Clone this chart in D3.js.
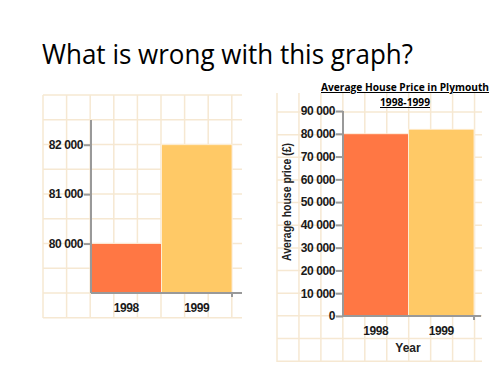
<!DOCTYPE html>
<html>
<head>
<meta charset="utf-8">
<script src="https://cdn.jsdelivr.net/npm/d3@7"></script>
<style>
	body { margin: 0; background: #fff; }
	svg { display: block; }
	.tick text { font-family: "Liberation Sans", Arial, sans-serif; font-weight: bold; font-size: 12px; letter-spacing: -0.4px; fill: #1a1a1a; }
</style>
</head>
<body>
<div id="chart"></div>
<script>
var years = ['1998', '1999'];
var prices = [80000, 82000];
var barColors = ['#ff7744', '#ffc966'];
var leftTicks = [80000, 81000, 82000];
var rightTicks = [0, 10000, 20000, 30000, 40000, 50000, 60000, 70000, 80000, 90000];

var width = 500, height = 375;
var svg = d3.select('#chart').append('svg').attr('width', width).attr('height', height);

var fmt = function (d) { return d3.format(',')(d).replace(/,/g, ' '); };

// question on the slide
svg.append('text')
	.attr('x', 42).attr('y', 64)
	.attr('textLength', 371).attr('lengthAdjust', 'spacingAndGlyphs')
	.style('font-family', '"Open Sans", sans-serif')
	.style('font-size', '28px')
	.style('font-weight', 500)
	.style('fill', '#000')
	.text('What is wrong with this graph?');

function drawGrid(g, x0, x1, y0, y1, sx, sy, ox, oy) {
	var grid = g.append('g').attr('class', 'grid');
	var xs = d3.range(x0 + ox, x1 + 0.5, sx);
	var ys = d3.range(y0 + oy, y1 + 0.5, sy);
	grid.selectAll('line.v').data(xs).enter().append('line')
		.attr('class', 'v')
		.attr('x1', function (d) { return d; }).attr('x2', function (d) { return d; })
		.attr('y1', y0).attr('y2', y1);
	grid.selectAll('line.h').data(ys).enter().append('line')
		.attr('class', 'h')
		.attr('x1', x0).attr('x2', x1)
		.attr('y1', function (d) { return d; }).attr('y2', function (d) { return d; });
	grid.selectAll('line').attr('stroke', '#f6e8d2').attr('stroke-width', 1.5);
}

function drawChart(opt) {
	var g = svg.append('g');
	drawGrid(g, opt.grid[0], opt.grid[1], opt.grid[2], opt.grid[3], opt.step[0], opt.step[1], opt.off[0], opt.off[1]);

	var x = d3.scaleBand().domain(years).range(opt.xr).padding(0);
	var y = d3.scaleLinear().domain(opt.yd).range(opt.yr);

	g.selectAll('rect.bar').data(years).enter().append('rect')
		.attr('class', 'bar')
		.attr('x', function (d) { return x(d); })
		.attr('width', x.bandwidth())
		.attr('y', function (d, i) { return y(prices[i]); })
		.attr('height', function (d, i) { return opt.yr[0] - y(prices[i]); })
		.attr('fill', function (d, i) { return barColors[i]; })
		.attr('stroke', '#fff3e0').attr('stroke-width', 0.8);

	var yAxis = g.append('g')
		.attr('transform', 'translate(' + opt.xr[0] + ',0)')
		.call(d3.axisLeft(y).tickValues(opt.ticks).tickFormat(fmt).tickSize(7).tickPadding(1));
	yAxis.select('.domain').attr('d', 'M0,' + opt.yr[0] + 'V' + opt.yr[1]);

	var xAxis = g.append('g')
		.attr('transform', 'translate(0,' + opt.yr[0] + ')')
		.call(d3.axisBottom(x).tickSize(4).tickPadding(6));
	xAxis.select('.domain').attr('d', 'M' + opt.xr[0] + ',0H' + opt.xEnd);
	xAxis.selectAll('.tick line').attr('transform', 'translate(' + (x.bandwidth() / 2) + ',0)');
	xAxis.selectAll('.tick').filter(function (d, i) { return i === 0; }).select('line').remove();
	xAxis.append('line')
		.attr('x1', opt.xr[1]).attr('x2', opt.xr[1]).attr('y1', 0).attr('y2', 4);

	g.selectAll('.domain, .tick line').attr('stroke', '#999').attr('stroke-width', 2);
	xAxis.selectAll('line').attr('stroke', '#999').attr('stroke-width', 2);
	return g;
}

drawChart({
	grid: [43, 242, 95, 318], step: [23.6, 24.75], off: [0, 0],
	xr: [91, 232], xEnd: 242,
	yd: [79000, 82500], yr: [293, 120],
	ticks: leftTicks
});

var right = drawChart({
	grid: [277, 482, 93, 362], step: [21.95, 22.65], off: [0, 19],
	xr: [343, 474], xEnd: 481,
	yd: [0, 90000], yr: [316, 111],
	ticks: rightTicks
});

var labelFont = '"Liberation Sans", Arial, sans-serif';
right.append('text')
	.attr('transform', 'translate(291,202) rotate(-90)')
	.attr('text-anchor', 'middle')
	.attr('textLength', 118).attr('lengthAdjust', 'spacingAndGlyphs')
	.style('font-family', labelFont).style('font-weight', 'bold').style('font-size', '12px')
	.style('fill', '#222')
	.text('Average house price (£)');

right.append('text')
	.attr('x', 408).attr('y', 352)
	.attr('text-anchor', 'middle')
	.style('font-family', labelFont).style('font-weight', 'bold').style('font-size', '12px')
	.style('fill', '#222')
	.text('Year');

var titleLines = ['Average House Price in Plymouth', '1998-1999'];
var titleLen = [168, 50];
right.selectAll('text.title').data(titleLines).enter().append('text')
	.attr('class', 'title')
	.attr('x', 405).attr('y', function (d, i) { return 91 + i * 15; })
	.attr('text-anchor', 'middle')
	.attr('textLength', function (d, i) { return titleLen[i]; })
	.attr('lengthAdjust', 'spacingAndGlyphs')
	.style('font-family', '"Open Sans", sans-serif').style('font-weight', 'bold').style('font-size', '10px')
	.style('text-decoration', 'underline')
	.style('fill', '#000')
	.text(function (d) { return d; });
</script>
</body>
</html>
